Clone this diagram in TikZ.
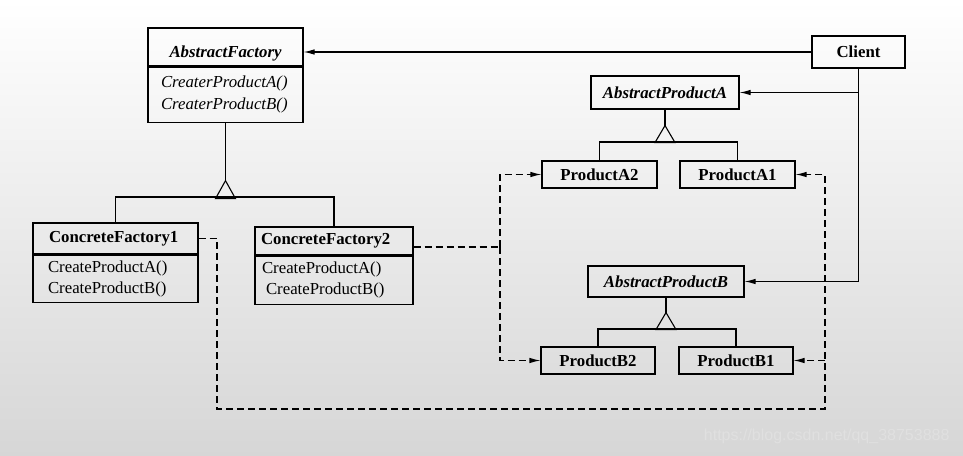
\documentclass[tikz,border=0pt]{standalone}
\usepackage{fontspec}
\setmainfont{Liberation Serif}
\newfontfamily\wmfont{Liberation Sans}
\usetikzlibrary{arrows.meta}
\newcommand{\umlf}{\fontsize{16.8}{22}\selectfont}
\begin{document}
\begin{tikzpicture}[x=1pt,y=-1pt,
  box/.style={draw, line width=1.1pt, inner ysep=0pt, font=\umlf},
  conn/.style={line width=1.1pt},
  dconn/.style={line width=1.1pt, dash pattern=on 7pt off 4pt},
  tip/.style={-{Latex[length=11pt,width=5.5pt]}}
]
\shade[top color=white, bottom color=gray!32] (0,0) rectangle (963,455);
\useasboundingbox (0,0) rectangle (963,455);

% AbstractFactory
\node[box, minimum width=155pt, minimum height=38pt, text height=20pt, text depth=0pt, font=\umlf\bfseries\itshape] (AFt) at (225.5,47) {AbstractFactory};
\node[box, anchor=north, minimum height=55pt, text width=129pt, inner xsep=13pt, align=left, font=\umlf\itshape] (AFm) at (AFt.south) {CreaterProductA()\\CreaterProductB()};

% ConcreteFactory1
\node[box, minimum height=31pt, text width=133pt, inner xsep=16pt, align=left, font=\umlf\bfseries] (CF1t) at (115.5,238.5) {ConcreteFactory1};
\node[box, anchor=north, minimum height=47pt, text width=135pt, inner xsep=15pt, align=left, font={\fontsize{16.8}{21}\selectfont}] (CF1m) at (CF1t.south) {CreateProductA()\\CreateProductB()};

% ConcreteFactory2
\node[box, minimum height=28pt, text width=146pt, inner xsep=6pt, align=left, font=\umlf\bfseries] (CF2t) at (334,241) {ConcreteFactory2};
\node[box, anchor=north, minimum height=48pt, text width=144pt, inner xsep=7pt, align=left, font={\fontsize{16.8}{21}\selectfont}] (CF2m) at (CF2t.south) {CreateProductA()\\\hspace*{4pt}CreateProductB()};

% Client
\node[box, minimum width=93pt, minimum height=32pt, font=\umlf\bfseries] (Client) at (858.5,52) {Client};

% Products
\node[box, minimum width=148pt, minimum height=33pt, font=\umlf\bfseries\itshape] (APA) at (665,92.5) {AbstractProductA};
\node[box, minimum width=115pt, minimum height=27pt, font=\umlf\bfseries] (PA2) at (599.5,174.5) {ProductA2};
\node[box, minimum width=115pt, minimum height=27pt, font=\umlf\bfseries] (PA1) at (737.5,174.5) {ProductA1};
\node[box, minimum width=156pt, minimum height=31pt, font=\umlf\bfseries\itshape] (APB) at (666,281.5) {AbstractProductB};
\node[box, minimum width=114pt, minimum height=27pt, font=\umlf\bfseries] (PB2) at (598,360.5) {ProductB2};
\node[box, minimum width=114pt, minimum height=27pt, font=\umlf\bfseries] (PB1) at (736,360.5) {ProductB1};

% Client associations
\draw[conn, tip] (Client.west) -- (AFt.east |- Client.west);
\draw[conn, tip] (Client.south) |- (APB.east);
\draw[conn, tip] (Client.south |- APA.east) -- (APA.east);

% Inheritance AbstractFactory
\draw[conn] (AFm.south) -- ++(0,58) coordinate (afTop);
\draw[conn, line join=miter] (afTop) -- ++(-10,18) -- ++(20,0) -- cycle;
\draw[conn] (CF1t.north) -- (CF1t.north |- 0,197) -- (CF2t.north |- 0,197) -- (CF2t.north);

% Inheritance AbstractProductA
\draw[conn] (APA.south) -- ++(0,16) coordinate (apaTop);
\draw[conn, line join=miter] (apaTop) -- ++(-10,17) -- ++(20,0) -- cycle;
\draw[conn] (PA2.north) -- (PA2.north |- 0,142) -- (PA1.north |- 0,142) -- (PA1.north);

% Inheritance AbstractProductB
\draw[conn] (APB.south) -- ++(0,15) coordinate (apbTop);
\draw[conn, line join=miter] (apbTop) -- ++(-10,17) -- ++(20,0) -- cycle;
\draw[conn] (PB2.north) -- (PB2.north |- 0,329) -- (PB1.north |- 0,329) -- (PB1.north);

% Dashed dependencies of ConcreteFactory2
\coordinate (bus2) at (500,247);
\draw[dconn] (CF2t.east |- bus2) -- (bus2);
\draw[dconn, tip] (bus2) |- (PA2.west);
\draw[dconn, tip] (bus2) |- (PB2.west);

% Dashed dependencies of ConcreteFactory1
\coordinate (c1a) at (217,409);
\coordinate (c1b) at (825,409);
\draw[dconn, tip] (CF1t.east) -| (c1a) -- (c1b) |- (PA1.east);
\draw[dconn, tip] (c1b |- PB1.east) -- (PB1.east);

% Watermark
\node[anchor=east, text=white!88!black, font=\wmfont\fontsize{16}{19}\selectfont] (wm) at (953,436) {https://blog.csdn.net/qq\_38753888};
\end{tikzpicture}
\end{document}
